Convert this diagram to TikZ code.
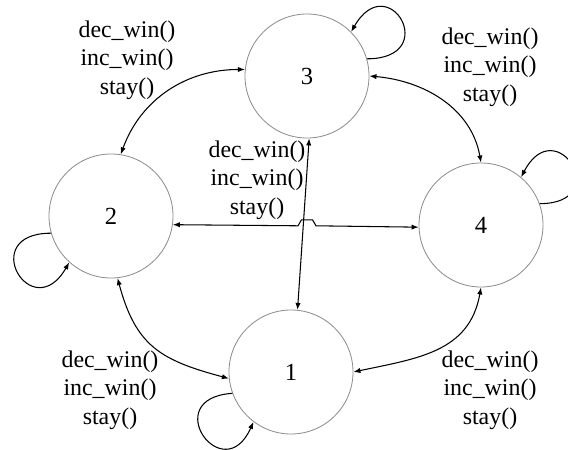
\documentclass[tikz,border=0pt]{standalone}
\usepackage{fontspec}
\setmainfont{Liberation Serif}
\definecolor{stategray}{RGB}{140, 140, 140}
\usetikzlibrary{arrows.meta}

\begin{document}
\begin{tikzpicture}[
    x=0.03cm, y=0.03cm,
    state/.style={draw=stategray, circle, line width=0.7pt, minimum size=3.72cm,
                  inner sep=0pt, font=\fontsize{21}{25}\selectfont},
    darr/.style={{Latex[length=6pt, width=4.5pt]}-{Latex[length=6pt, width=4.5pt]},
                 line width=0.9pt},
    arr/.style={-{Latex[length=6pt, width=4.5pt]}, line width=0.9pt},
    lbl/.style={align=center, font=\fontsize{20.4}{24.3}\selectfont}
  ]
    \clip (0,0) rectangle (568,449);

    \node[state] (n3) at (307, 373) {3};
    \node[state] (n2) at (111, 233) {2};
    \node[state] (n4) at (481, 224) {4};
    \node[state] (n1) at (291, 77) {1};

    \node[lbl] (l32) at (127, 389) {dec\_win()\\inc\_win()\\stay()};
    \node[lbl] (l34) at (490, 382) {dec\_win()\\inc\_win()\\stay()};
    \node[lbl] (l31) at (257, 269) {dec\_win()\\inc\_win()\\stay()};
    \node[lbl] (l21) at (110, 59) {dec\_win()\\inc\_win()\\stay()};
    \node[lbl] (l41) at (490, 59) {dec\_win()\\inc\_win()\\stay()};

    \draw[darr] (n3.174) to[out=180, in=70] (n2.81);
    \draw[darr] (n3.0) to[out=-5, in=100] (n4.90);
    \draw[darr] (n2.-84) to[out=-75, in=165, looseness=1.2] (n1.186);
    \draw[darr] (n4.-90) to[out=-100, in=12, looseness=1.1] (n1.0);
    \draw[darr] (n3.-88) -- (n1.84);

    \coordinate (jmp) at (298, 223.2);
    \draw[darr] (n2.-8) -- (jmp) -- ++(3.5,6) -- ++(11,0) -- ++(3.5,-6) -- (n4.182);

    \draw[arr] (n3.16) .. controls +(75,0) and +(37.5,65) .. (n3.45);
    \draw[arr] (n4.20) .. controls +(75,0) and +(35,67) .. (n4.50);
    \draw[arr] (n2.196) .. controls +(-75,0) and +(-37.5,-65) .. (n2.228);
    \draw[arr] (n1.200) .. controls +(-75,-5) and +(-30,-68) .. (n1.233);
\end{tikzpicture}
\end{document}
